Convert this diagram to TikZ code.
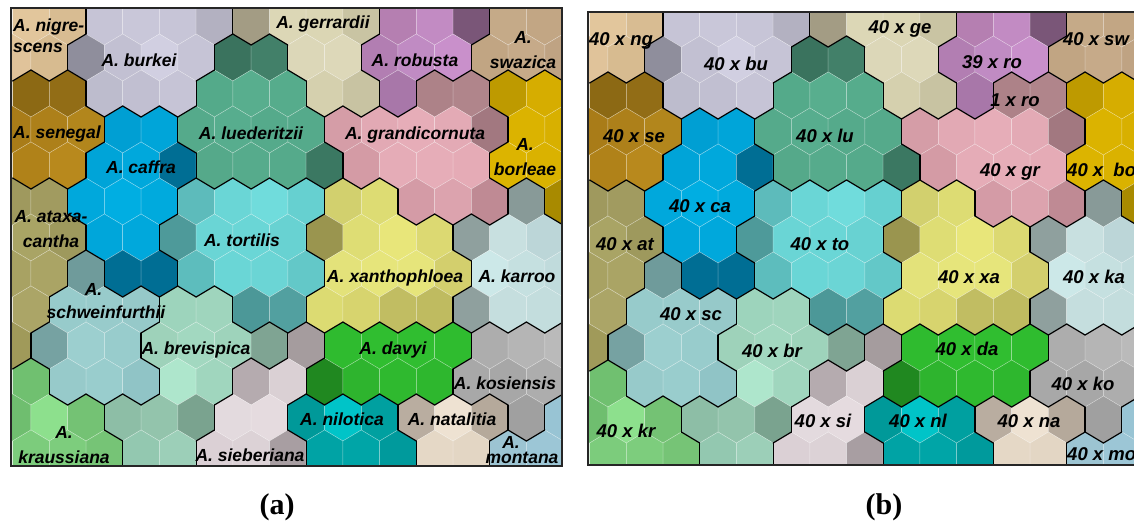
\documentclass[tikz,border=0pt]{standalone}
\usepackage{fontspec}
\setmainfont{Liberation Serif}
\setsansfont{Liberation Sans}

% hexagon geometry of the map, in px
\newcommand{\hexhw}{18.35}   % half width
\newcommand{\somstep}{36.7}  % column step
\newcommand{\somrise}{36}    % row step
\newcommand{\hexside}{12.5}  % half the vertical side
\newcommand{\hextip}{23.5}   % centre to top vertex
\newcommand{\hexat}[2]{(#1,#2-\hextip) -- (#1+\hexhw,#2-\hexside) -- (#1+\hexhw,#2+\hexside)
  -- (#1,#2+\hextip) -- (#1-\hexhw,#2+\hexside) -- (#1-\hexhw,#2-\hexside) -- cycle}

% cells, row by row: class/colour (even rows sit half a cell to the right)
\def\somrowA{ng/E2C69C,ng/D8BC92,bu/C6C4D6,bu/C9C7D9,bu/C7C5D7,bu/B3B1C1,ge/A39C84,ge/DCD7B6,
  ge/DBD6B4,ge/C9C4A3,ro/B57FB1,ro/C28BC3,ro/7A5678,sw/C5AA88,sw/C2A684}
\def\somrowB{ng/E0C39A,ng/D7BB90,bu/8F8E9C,bu/C2C0D2,bu/D1CFE1,bu/C6C4D6,lu/3A735E,lu/428069,
  ge/DCD7B8,ge/DDD8B9,ro/B27EB2,ro/C08BC3,ro/C990CB,sw/C1A583,sw/C6AA89,sw/BFA383}
\def\somrowC{se/8C6914,se/926D16,bu/BDBCCD,bu/C1BFD1,bu/C6C4D6,lu/54AA8A,lu/58AE8E,lu/56AC8C,
  ge/D5D0AE,ge/C8C3A2,ro/A877A9,gr/AD8288,gr/B0858B,bo/BE9A00,bo/D6AD00}
\def\somrowD{se/A97C18,se/AD801A,se/B2861C,ca/009FD3,ca/00A5D9,lu/55AA8B,lu/57AD8E,lu/55AA8B,
  lu/55AA8B,gr/D59DA7,gr/E2A9B4,gr/E6ADB8,gr/E3AAB5,gr/A27880,bo/DBB300,bo/D8B000}
\def\somrowE{se/B08219,se/B8891D,ca/00A4D8,ca/00A8DC,ca/006E94,lu/55A98A,lu/56AB8C,lu/55AA8B,
  lu/3B7862,gr/D49BA5,gr/E5ACB7,gr/E6ADB8,gr/E5ABB6,bo/DCB400,bo/DAB200}
\def\somrowF{at/9F995E,at/A19B60,ca/00A8DC,ca/00AEE2,ca/00AADD,to/5DBBBB,to/6AD6D6,to/70DCDC,
  to/66D0D0,xa/D2D06E,xa/DDDC73,gr/D49BA6,gr/DCA3AE,gr/BF8A94,ka/889A98,bo/A88A00}
\def\somrowG{at/A9A465,at/9E995D,ca/00A6DA,ca/00A8DC,to/4E9A9A,to/6AD5D5,to/6AD6D6,to/68D2D2,
  xa/9A954F,xa/DEDD74,xa/E8E67A,xa/DCD972,ka/8FA09E,ka/C8E0E0,ka/BCD6D8}
\def\somrowH{at/A8A263,at/AAA465,sc/6F9B9B,ca/006E94,ca/006E94,to/5DBDBD,to/6AD6D6,to/6BD5D5,
  to/63C8C8,xa/E3E27A,xa/E6E57B,xa/E6E57B,xa/D3CF6D,ka/CCE8E8,ka/C5E0E0,ka/C0DBDC}
\def\somrowI{at/ABA567,sc/97CBCB,sc/98CBCB,sc/96C9C9,br/9DD4BC,br/9FD5BD,to/4C9898,to/52A0A0,
  xa/DCDB72,xa/D7D46E,xa/C1BD62,xa/BFBB60,ka/8FA09E,ka/C5DEDE,ka/C3DDDD}
\def\somrowJ{at/A09A5A,sc/76A2A2,sc/9CCFCF,sc/98CCCC,br/9ED2BA,br/A2D8C0,br/9ED3BB,br/7FA493,
  si/A59C9E,da/2FBB2F,da/30BE30,da/30BE30,da/2FBC2F,ko/ADADAD,ko/B5B5B5,ko/BABABA}
\def\somrowK{kr/70C070,sc/97CACA,sc/99CDCD,sc/90C4C6,br/AEE6CC,br/A0D6BE,si/B5ABAF,si/DAD0D4,
  da/208820,da/2EB42E,da/2FB92F,da/2EB72E,ko/A8A8A8,ko/A7A7A7,ko/ADADAD}
\def\somrowL{kr/6FBE6F,kr/8DE08D,kr/74C274,br/8DBEA6,br/93C4AC,br/7AA38F,si/E3DADE,si/E5DBDF,
  nl/009999,nl/00C4C8,nl/00A0A0,na/B9ADA0,na/EEE2D2,na/B5A99B,ko/A0A0A0,mo/98C4D4}
\def\somrowM{kr/7CCC7C,kr/7DCD7D,kr/76C476,br/93C8B0,br/9CCFB8,si/DBD0D5,si/DCD2D6,si/A89EA2,
  nl/00A3A5,nl/00A5A7,nl/009A9C,na/E5D8C6,na/E3D6C4,mo/9CC4D2,mo/9CC6D6}

% black line where two neighbouring cells belong to different classes
\newcommand{\classborder}[4]{%
  \ifcsname reg@#1@#2@#3\endcsname
    \edef\nextreg{\csname reg@#1@#2@#3\endcsname}%
    \ifx\nextreg\thisreg\else\draw[class border] #4;\fi
  \fi}

% #1,#2: centre of the first cell of row 1; #3: map tag; #4: changes before the borders
\newcommand{\drawmap}[4]{%
  \foreach \r [count=\k from 0] in {A,...,M}{
    \edef\thisrow{\csname somrow\r\endcsname}
    \foreach \reg/\cellcol [count=\j from 0] in \thisrow{
      \expandafter\xdef\csname reg@#3@\k @\j\endcsname{\reg}
      \pgfmathsetmacro\cx{#1+\somstep*\j+\hexhw*(1-mod(\k,2))}
      \pgfmathsetmacro\cy{#2+\somrise*\k}
      \edef\setfill{\noexpand\definecolor{cellfill}{HTML}{\cellcol}}\setfill
      \path[cell edge,fill=cellfill] \hexat{\cx}{\cy};
    }
  }
  #4
  \foreach \r [count=\k from 0] in {A,...,M}{
    \edef\thisrow{\csname somrow\r\endcsname}
    \foreach \reg/\cellcol [count=\j from 0] in \thisrow{
      \edef\thisreg{\csname reg@#3@\k @\j\endcsname}
      \pgfmathsetmacro\cx{#1+\somstep*\j+\hexhw*(1-mod(\k,2))}
      \pgfmathsetmacro\cy{#2+\somrise*\k}
      \pgfmathtruncatemacro\kS{\k+1}
      \pgfmathtruncatemacro\jE{\j+1}
      \ifodd\k\relax
        \pgfmathtruncatemacro\jSE{\j}\pgfmathtruncatemacro\jSW{\j-1}
      \else
        \pgfmathtruncatemacro\jSE{\j+1}\pgfmathtruncatemacro\jSW{\j}
      \fi
      \classborder{#3}{\k}{\jE}{(\cx+\hexhw,\cy-\hexside) -- (\cx+\hexhw,\cy+\hexside)}
      \classborder{#3}{\kS}{\jSE}{(\cx+\hexhw,\cy+\hexside) -- (\cx,\cy+\hextip)}
      \classborder{#3}{\kS}{\jSW}{(\cx,\cy+\hextip) -- (\cx-\hexhw,\cy+\hexside)}
    }
  }}

\tikzset{
  cell edge/.style={draw=white,draw opacity=.35,line width=.5pt},
  class border/.style={draw=black,line width=1.2pt,line cap=round},
  map frame/.style={draw=black!85,line width=1.2pt},
  species label/.style={font=\sffamily\bfseries\itshape\fontsize{17.5}{21}\selectfont,
    inner sep=0pt,anchor=base,align=center},
  count label/.style={font=\sffamily\bfseries\itshape\fontsize{18.5}{21}\selectfont,
    inner sep=0pt,anchor=base},
  panel tag/.style={font=\bfseries\fontsize{30}{30}\selectfont,inner sep=0pt,anchor=base},
}

\begin{document}
\begin{tikzpicture}[x=1pt,y=-1pt]
  \useasboundingbox (0,0) rectangle (1134,523);

  % (a) species map
  \begin{scope}
    \clip (11,8) rectangle (562,466);
    \drawmap{12.6}{21.5}{a}{}
  \end{scope}
  \draw[map frame] (11,8) rectangle (562,466);
  \node[species label,anchor=base west,align=left] (lab-ng) at (13,52) {A. nigre-\\scens};
  \node[species label] (lab-bu) at (139,66) {A. burkei};
  \node[species label] (lab-ge) at (323,28) {A. gerrardii};
  \node[species label] (lab-ro) at (415,66) {A. robusta};
  \node[species label] (lab-sw) at (523,68) {A.\\[4pt]swazica};
  \node[species label] (lab-se) at (57,138) {A. senegal};
  \node[species label] (lab-lu) at (251,139) {A. luederitzii};
  \node[species label] (lab-gr) at (415,139) {A. grandicornuta};
  \node[species label] (lab-bo) at (525,175) {A.\\[4pt]borleae};
  \node[species label] (lab-ca) at (141,173) {A. caffra};
  \node[species label] (lab-at) at (51,247) {A. ataxa-\\[4pt]cantha};
  \node[species label] (lab-to) at (242,246) {A. tortilis};
  \node[species label] (lab-xa) at (395,282) {A. xanthophloea};
  \node[species label] (lab-ka) at (517,282) {A. karroo};
  \node[species label] (lab-sc) at (106,318) {\hspace*{-25pt}A.\\[2pt]schweinfurthii};
  \node[species label] (lab-br) at (196,354) {A. brevispica};
  \node[species label] (lab-da) at (393,354) {A. davyi};
  \node[species label] (lab-ko) at (505,389) {A. kosiensis};
  \node[species label] (lab-kr) at (64,463) {A.\\[4pt]kraussiana};
  \node[species label] (lab-nl) at (342,425) {A. nilotica};
  \node[species label] (lab-na) at (452,425) {A. natalitia};
  \node[species label] (lab-si) at (250,461) {A. sieberiana};
  \node[species label] (lab-mo) at (522,463) {\hspace*{-22pt}A.\\[-6pt]montana};

  % (b) sample counts on the same map
  \begin{scope}
    \clip (588,12) rectangle (1134,465);
    \drawmap{589.6}{23.5}{b}{}
    \node[count label] (cnt-ng) at (621,45) {40 x ng};
    \node[count label] (cnt-bu) at (736,70) {40 x bu};
    \node[count label] (cnt-ge) at (900,33) {40 x ge};
    \node[count label] (cnt-ro) at (992,68) {39 x ro};
    \node[count label] (cnt-sw) at (1096,45) {40 x sw};
    \node[count label] (cnt-rx) at (1015,106) {1 x ro};
    \node[count label] (cnt-se) at (634,142) {40 x se};
    \node[count label] (cnt-lu) at (825,142) {40 x lu};
    \node[count label] (cnt-gr) at (1010,176) {40 x gr};
    \node[count label,anchor=base west] (cnt-bo) at (1067,176) {40 x\ \ bo};
    \node[count label] (cnt-ca) at (700,212) {40 x ca};
    \node[count label] (cnt-at) at (625,250) {40 x at};
    \node[count label] (cnt-to) at (820,250) {40 x to};
    \node[count label] (cnt-xa) at (969,283) {40 x xa};
    \node[count label] (cnt-ka) at (1094,283) {40 x ka};
    \node[count label] (cnt-sc) at (691,320) {40 x sc};
    \node[count label] (cnt-br) at (772,357) {40 x br};
    \node[count label] (cnt-da) at (967,355) {40 x da};
    \node[count label] (cnt-ko) at (1083,390) {40 x ko};
    \node[count label] (cnt-kr) at (626,437) {40 x kr};
    \node[count label] (cnt-si) at (823,427) {40 x si};
    \node[count label] (cnt-nl) at (918,427) {40 x nl};
    \node[count label] (cnt-na) at (1029,427) {40 x na};
    \node[count label,anchor=base west] (cnt-mo) at (1067,460) {40 x mo};
  \end{scope}
  \draw[map frame] (1134,12) -- (588,12) -- (588,465) -- (1134,465);

  \node[panel tag] (tag-a) at (277,514) {(a)};
  \node[panel tag] (tag-b) at (884,514) {(b)};
\end{tikzpicture}
\end{document}
